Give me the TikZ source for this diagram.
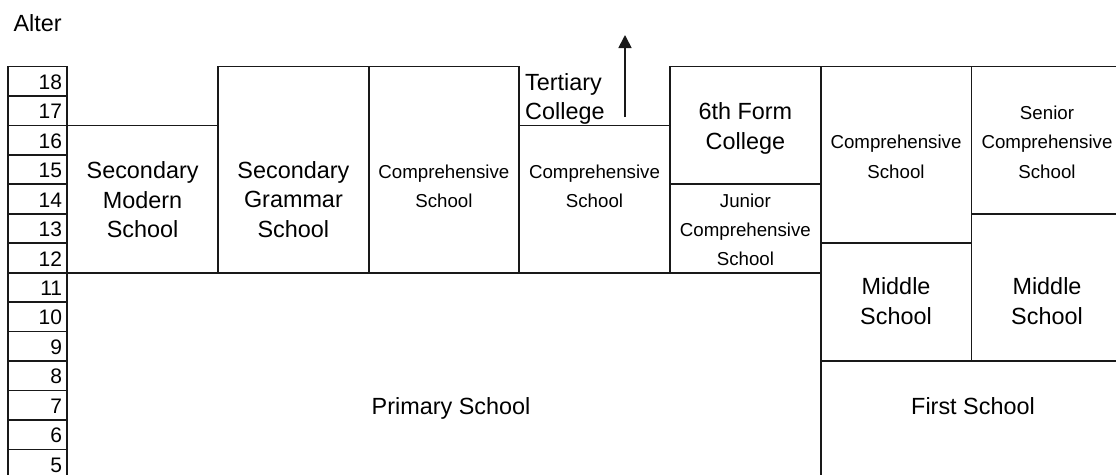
\documentclass[tikz,border=0pt]{standalone}
\usepackage{fontspec}
\setmainfont{Liberation Sans}
\usetikzlibrary{arrows.meta}
\newcommand\bigfnt{\fontsize{23.4}{29.46}\selectfont}
\newcommand\smallfnt{\fontsize{18.7}{29.46}\selectfont}
\newcommand\agefnt{\fontsize{21}{25}\selectfont}
\begin{document}
\begin{tikzpicture}[x=1pt,y=-1pt,
  ln/.style={line width=1.7pt, black!90, line cap=rect},
  big/.style={font=\bigfnt, align=center, anchor=base, inner sep=0pt},
  small/.style={font=\smallfnt, align=center, anchor=base, inner sep=0pt},
  age/.style={font=\agefnt, anchor=base east, inner sep=0pt}]
\useasboundingbox (0,0) rectangle (1116,474);
\def\T{66.5}\def\h{29.46}
% age column
\draw[ln] (8.3,474) -- (8.3,\T) -- (67.3,\T) -- (67.3,474);
\foreach \n [count=\i from 0] in {18,17,...,5}{
  \draw[ln] (8.3,{\T+\i*\h}) -- (67.3,{\T+\i*\h});
  \node[age] (age\n) at (62.3,{\T+(\i+1)*\h-6.7}) {\n};
}
% school grid
\draw[ln] (67.3,{\T+2*\h}) -- (218,{\T+2*\h});
\draw[ln] (218,{\T+7*\h}) -- (218,\T) -- (519,\T) -- (519,{\T+7*\h});
\draw[ln] (368.7,\T) -- (368.7,{\T+7*\h});
\draw[ln] (519,{\T+2*\h}) -- (670,{\T+2*\h});
\draw[ln] (670,{\T+7*\h}) -- (670,\T) -- (1116,\T);
\draw[ln] (67.3,{\T+7*\h}) -- (820.7,{\T+7*\h});
\draw[ln] (670,{\T+4*\h}) -- (820.7,{\T+4*\h});
\draw[ln] (820.7,\T) -- (820.7,474);
\draw[ln] (820.7,{\T+6*\h}) -- (971.5,{\T+6*\h});
\draw[ln] (971.5,\T) -- (971.5,{\T+10*\h});
\draw[ln] (971.5,{\T+5*\h}) -- (1116,{\T+5*\h});
\draw[ln] (820.7,{\T+10*\h}) -- (1116,{\T+10*\h});
% labels (base anchor = baseline of last line)
\node[big, anchor=base west] (alter) at (13.3,31.7) {Alter};
\node[big] (secmod) at (142.6,237.5) {Secondary\\Modern\\School};
\node[big] (secgram) at (293.4,237.2) {Secondary\\Grammar\\School};
\node[small] (comp3) at (443.9,207.7) {Comprehensive\\School};
\node[big, align=left, anchor=base west, font={\fontsize{23.4}{28.7}\selectfont}] (tert) at (525,119.3) {Tertiary\\College};
\node[small] (comp4) at (594.5,207.7) {Comprehensive\\School};
\node[big] (sixth) at (745.4,149) {6th Form\\College};
\node[small, font={\fontsize{18.7}{28.7}\selectfont}] (junior) at (745.4,265) {Junior\\Comprehensive\\School};
\node[small] (comp6) at (896,178.3) {Comprehensive\\School};
\node[small] (senior) at (1047,178.3) {Senior\\Comprehensive\\School};
\node[big] (middle6) at (896,324) {Middle\\School};
\node[big] (middle7) at (1047,324) {Middle\\School};
\node[big] (primary) at (451,414) {Primary School};
\node[big] (first) at (973,414) {First School};
% arrow
\coordinate (arrS) at (625,117);
\coordinate (arrE) at (625,35);
\draw[line width=1.7pt, black!90, -{Triangle[width=13pt,length=13pt]}] (arrS) -- (arrE);
\end{tikzpicture}
\end{document}
